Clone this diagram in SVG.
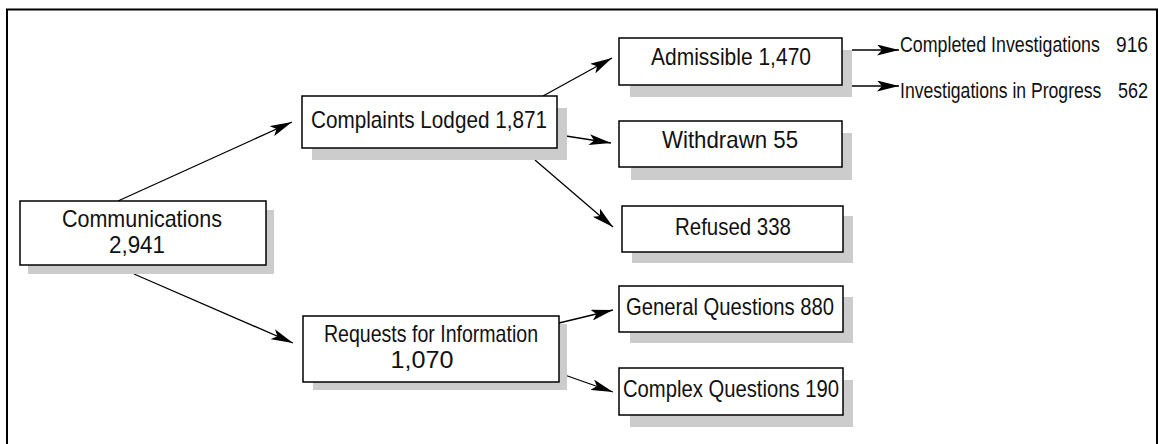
<svg xmlns="http://www.w3.org/2000/svg" width="1158" height="444" viewBox="0 0 1158 444">
<style>
.bg{fill:#ffffff}
.frame{fill:none;stroke:#000;stroke-width:2}
.sh{fill:#cccccc}
.box{fill:#ffffff;stroke:#000;stroke-width:1.5}
.t{font-family:"Liberation Sans",Arial,sans-serif;font-size:24px;fill:#111;text-anchor:middle}
.s{font-family:"Liberation Sans",Arial,sans-serif;font-size:22px;fill:#111}
.c{fill:none;stroke:#000;stroke-width:1.3}
</style>
<defs>
<marker id="ah" viewBox="0 0 22 11" refX="22" refY="5.5" markerWidth="22" markerHeight="11" markerUnits="userSpaceOnUse" orient="auto">
<path d="M0,0 L22,5.5 L0,11 L5,5.5 z" fill="#000"/>
</marker>
</defs>
<rect class="bg" x="0" y="0" width="1158" height="444"/>
<path class="frame" d="M7,446 L7,9.5 L1157,9.5 L1157,446"/>
<g id="connectors">
<line class="c" x1="118" y1="201" x2="292" y2="122" marker-end="url(#ah)"/>
<line class="c" x1="134" y1="274" x2="293" y2="343" marker-end="url(#ah)"/>
<line class="c" x1="543" y1="96" x2="612" y2="58" marker-end="url(#ah)"/>
<line class="c" x1="566" y1="136" x2="611" y2="143" marker-end="url(#ah)"/>
<line class="c" x1="535" y1="160" x2="613" y2="227" marker-end="url(#ah)"/>
<line class="c" x1="852" y1="50" x2="899" y2="50" marker-end="url(#ah)"/>
<line class="c" x1="852" y1="86" x2="899" y2="86" marker-end="url(#ah)"/>
<line class="c" x1="559" y1="323" x2="613" y2="310" marker-end="url(#ah)"/>
<line class="c" x1="559" y1="373" x2="613" y2="392" marker-end="url(#ah)"/>
</g>
<g id="communications">
<rect class="sh" x="28" y="210" width="246" height="64"/>
<rect class="box" x="20" y="201" width="246" height="64"/>
<text class="t" x="142" y="227" textLength="160" lengthAdjust="spacingAndGlyphs">Communications</text>
<text class="t" x="137" y="253" textLength="56" lengthAdjust="spacingAndGlyphs">2,941</text>
</g>
<g id="complaints">
<rect class="sh" x="312" y="108" width="255" height="52"/>
<rect class="box" x="302" y="96" width="255" height="52"/>
<text class="t" x="429" y="128" textLength="236" lengthAdjust="spacingAndGlyphs">Complaints Lodged 1,871</text>
</g>
<g id="requests">
<rect class="sh" x="313" y="324" width="254" height="66"/>
<rect class="box" x="303" y="316" width="256" height="66"/>
<text class="t" x="431" y="342" textLength="214" lengthAdjust="spacingAndGlyphs">Requests for Information</text>
<text class="t" x="422" y="368" textLength="63" lengthAdjust="spacingAndGlyphs">1,070</text>
</g>
<g id="admissible">
<rect class="sh" x="630" y="50" width="222" height="47"/>
<rect class="box" x="619" y="38" width="223" height="47"/>
<text class="t" x="731" y="65" textLength="160" lengthAdjust="spacingAndGlyphs">Admissible 1,470</text>
</g>
<g id="withdrawn">
<rect class="sh" x="631" y="133" width="221" height="47"/>
<rect class="box" x="619" y="121" width="223" height="46"/>
<text class="t" x="730" y="148" textLength="136" lengthAdjust="spacingAndGlyphs">Withdrawn 55</text>
</g>
<g id="refused">
<rect class="sh" x="632" y="216" width="221" height="47"/>
<rect class="box" x="622" y="206" width="221" height="46"/>
<text class="t" x="733" y="235" textLength="116" lengthAdjust="spacingAndGlyphs">Refused 338</text>
</g>
<g id="general">
<rect class="sh" x="630" y="297" width="223" height="46"/>
<rect class="box" x="619" y="286" width="224" height="46"/>
<text class="t" x="730" y="315" textLength="208" lengthAdjust="spacingAndGlyphs">General Questions 880</text>
</g>
<g id="complex">
<rect class="sh" x="630" y="380" width="223" height="47"/>
<rect class="box" x="619" y="368" width="224" height="47"/>
<text class="t" x="731" y="397" textLength="216" lengthAdjust="spacingAndGlyphs">Complex Questions 190</text>
</g>
<g id="completed">
<text class="s" transform="matrix(0.81,0,0,1,900,52)">Completed Investigations</text>
<text class="s" transform="matrix(0.87,0,0,1,1148,52)" text-anchor="end">916</text>
</g>
<g id="inprogress">
<text class="s" transform="matrix(0.80,0,0,1,900,98)">Investigations in Progress</text>
<text class="s" transform="matrix(0.82,0,0,1,1148,98)" text-anchor="end">562</text>
</g>
</svg>
